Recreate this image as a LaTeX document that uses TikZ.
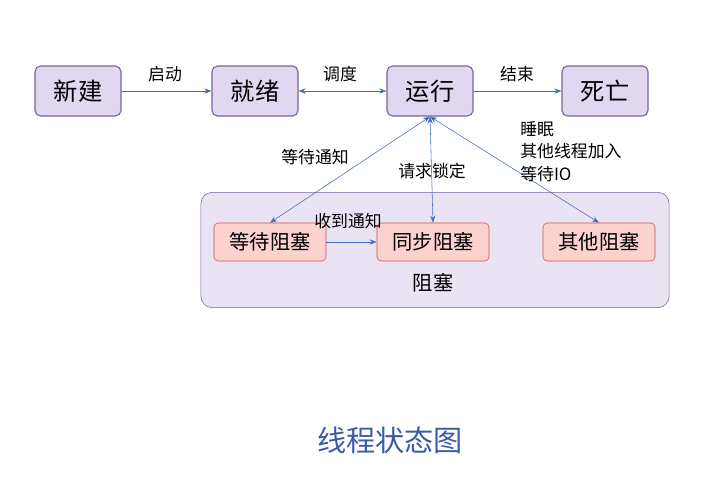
\documentclass[tikz,border=0pt]{standalone}
\usepackage{fontspec}
\setmainfont{Noto Sans CJK SC}
\usetikzlibrary{arrows.meta}
\definecolor{stateedge}{RGB}{120,100,160}
\definecolor{statefill}{RGB}{225,215,240}
\definecolor{blockedge}{RGB}{200,80,80}
\definecolor{blockfill}{RGB}{252,210,205}
\definecolor{linkblue}{RGB}{70,110,180}
\definecolor{titleblue}{RGB}{60,90,170}
\begin{document}
\begin{tikzpicture}[x=0.025cm,y=-0.025cm,font=\large,
    statebox/.style={draw=stateedge,fill=statefill,rounded corners=4pt,thick,
                     minimum width=2.15cm,minimum height=1.25cm,font=\LARGE},
    blockbox/.style={draw=blockedge,fill=blockfill,rounded corners=3pt,
                     minimum width=2.8cm,minimum height=0.95cm,font=\Large},
    link/.style={draw=linkblue,-{Stealth[length=5pt]}},
    twolink/.style={draw=linkblue,{Stealth[length=5pt]}-{Stealth[length=5pt]}}]
    \useasboundingbox (0,0) rectangle (716,480);
    % blocked group
    \node (group) [draw=stateedge,fill=statefill!70,rounded corners=8pt,
                   minimum width=11.7cm,minimum height=2.88cm] at (435,250) {};
    \node (blocked) [font=\Large] at (433,283) {阻塞};
    % states
    \node (new)     [statebox] at (78,91)  {新建};
    \node (ready)   [statebox] at (255,91) {就绪};
    \node (running) [statebox] at (430,91) {运行};
    \node (dead)    [statebox] at (605,91) {死亡};
    \node (wait)    [blockbox] at (270,242) {等待阻塞};
    \node (sync)    [blockbox] at (433,242) {同步阻塞};
    \node (other)   [blockbox] at (599,242) {其他阻塞};
    % transitions
    \draw[link] (new) -- (ready);
    \node (startlbl) at (165,74) {启动};
    \draw[twolink] (ready) -- (running);
    \node (schedlbl) at (340,74) {调度};
    \draw[link] (running) -- (dead);
    \node (endlbl) at (517,74) {结束};
    \draw[twolink] (running.south) -- (wait.north);
    \node (waitlbl) at (315,157) {等待通知};
    \draw[twolink] (running.south) -- (sync.north);
    \node (locklbl) at (432,171) {请求锁定};
    \draw[twolink] (running.south) -- (other.north);
    \node (otherlbl) [align=left,anchor=north west,inner sep=0pt] at (520,121)
        {睡眠\\[2pt]其他线程加入\\[2pt]等待IO};
    \draw[link] (wait) -- (sync);
    \node (notelbl) at (348,221) {收到通知};
    % title
    \node (title) [text=titleblue,font=\huge] at (390,440) {线程状态图};
\end{tikzpicture}
\end{document}
